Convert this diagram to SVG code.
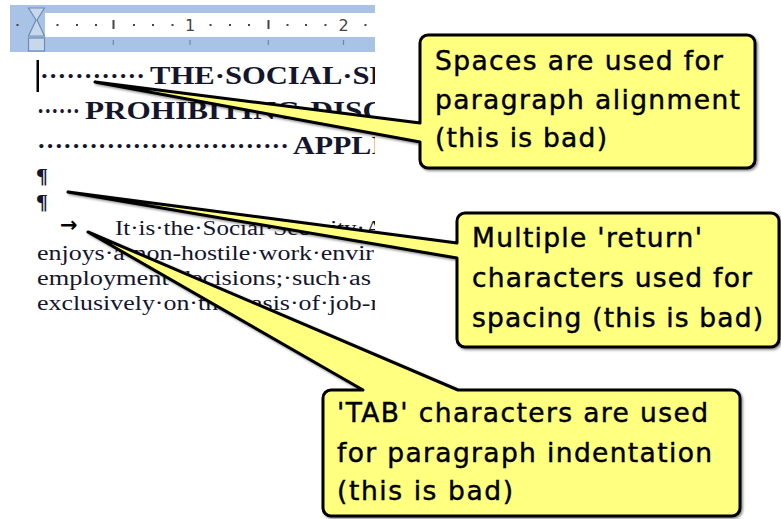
<svg xmlns="http://www.w3.org/2000/svg" width="781" height="519" viewBox="0 0 781 519">
<style>
.band{fill:#a8c3e6}
.dot{fill:#444}
.rnum{font-family:"DejaVu Sans",sans-serif;font-size:16px;fill:#444}
.btick{stroke:#6d86a8;stroke-width:1.2}
.head{font-family:"Liberation Serif",serif;font-weight:bold;font-size:26px;fill:#15152e}
.pil{font-family:"Liberation Serif",serif;font-weight:bold;font-size:22px;fill:#15152e}
.body{font-family:"Liberation Serif",serif;font-size:20px;fill:#15152e}
.call{fill:#ffff80;stroke:#000;stroke-width:3;stroke-linejoin:round}
.ct{font-family:"DejaVu Sans",sans-serif;font-size:26.5px;fill:#000;stroke:#000;stroke-width:0.45}
</style>
<defs>
<clipPath id="doc"><rect x="0" y="0" width="375" height="519"/></clipPath>
<filter id="sh" x="-5%" y="-5%" width="115%" height="115%">
<feDropShadow dx="1.5" dy="1.5" stdDeviation="1" flood-color="#000" flood-opacity="0.45"/>
</filter>
</defs>
<rect width="781" height="519" fill="#fff"/>
<g id="ruler">
<rect x="10" y="5" width="365" height="47" fill="#fff"/>
<rect class="band" x="10" y="5" width="365" height="8"/>
<rect class="band" x="10" y="37" width="365" height="15"/>
<rect class="band" x="10" y="13" width="35" height="24"/>
<g class="dot">
<rect x="16.5" y="24" width="2" height="2"/>
<rect x="56.5" y="24" width="2" height="2"/>
<rect x="76" y="24" width="2" height="2"/>
<rect x="95" y="24" width="2" height="2"/>
<rect x="112.5" y="20" width="2" height="9"/>
<rect x="133" y="24" width="2" height="2"/>
<rect x="152" y="24" width="2" height="2"/>
<rect x="171.5" y="24" width="2" height="2"/>
<rect x="209.5" y="24" width="2" height="2"/>
<rect x="229" y="24" width="2" height="2"/>
<rect x="248" y="24" width="2" height="2"/>
<rect x="267.5" y="20" width="2" height="9"/>
<rect x="286.5" y="24" width="2" height="2"/>
<rect x="305" y="24" width="2" height="2"/>
<rect x="324.5" y="24" width="2" height="2"/>
<rect x="364.5" y="24" width="2" height="2"/>
</g>
<text class="rnum" x="190" y="31" text-anchor="middle">1</text>
<text class="rnum" x="343.5" y="31" text-anchor="middle">2</text>
<line class="btick" x1="113.3" y1="40" x2="113.3" y2="45"/>
<line class="btick" x1="190" y1="40" x2="190" y2="45"/>
<line class="btick" x1="268.3" y1="40" x2="268.3" y2="45"/>
<line class="btick" x1="343.5" y1="40" x2="343.5" y2="45"/>
<path d="M28.5,8 H44.5 L37,20 L44.5,36 H28.5 L36,20 Z" fill="#c8d8ec" stroke="#6f8db3" stroke-width="1.2"/>
<rect x="28.5" y="38" width="16" height="13" fill="#c8d8ec" stroke="#6f8db3" stroke-width="1.2"/>
</g>
<g id="document" clip-path="url(#doc)">
<rect x="36.5" y="60" width="2.5" height="32" fill="#000"/>
<text class="head" x="40" y="84" textLength="105" lengthAdjust="spacingAndGlyphs">············</text>
<text class="head" x="150" y="84" textLength="240" lengthAdjust="spacingAndGlyphs">THE·SOCIAL·SE</text>
<text class="head" x="37" y="119" textLength="43" lengthAdjust="spacingAndGlyphs">······</text>
<text class="head" x="85" y="119" textLength="300" lengthAdjust="spacingAndGlyphs">PROHIBITING·DISC</text>
<text class="head" x="37" y="154" textLength="252" lengthAdjust="spacingAndGlyphs">·····························</text>
<text class="head" x="293" y="154" textLength="90" lengthAdjust="spacingAndGlyphs">APPLI</text>
<text class="pil" x="36" y="183">¶</text>
<text class="pil" x="36" y="209">¶</text>
<text x="60" y="232" font-family="DejaVu Sans" font-weight="bold" font-size="21" fill="#000">→</text>
<text class="body" x="115" y="235" textLength="268" lengthAdjust="spacingAndGlyphs">It·is·the·Social·Security·A</text>
<text class="body" x="37" y="260" textLength="337" lengthAdjust="spacingAndGlyphs">enjoys·a·non-hostile·work·envir</text>
<text class="body" x="37" y="285" textLength="334" lengthAdjust="spacingAndGlyphs">employment·decisions;·such·as</text>
<text class="body" x="37" y="310" textLength="342" lengthAdjust="spacingAndGlyphs">exclusively·on·the·basis·of·job-r</text>
</g>
<g id="connectors"></g>
<g id="callout-spaces">
<path class="call" filter="url(#sh)" d="M428,35 H747 A8,8 0 0 1 755,43 V160 A8,8 0 0 1 747,168 H428 A8,8 0 0 1 420,160 V142 L95,82 L420,123 V43 A8,8 0 0 1 428,35 Z"/>
<text class="ct" x="435" y="70" textLength="288">Spaces are used for</text>
<text class="ct" x="435" y="108.5" textLength="305">paragraph alignment</text>
<text class="ct" x="435" y="147" textLength="172">(this is bad)</text>
</g>
<g id="callout-return">
<path class="call" filter="url(#sh)" d="M465,213 H771 A8,8 0 0 1 779,221 V339 A8,8 0 0 1 771,347 H465 A8,8 0 0 1 457,339 V258 L68,192 L457,243 V221 A8,8 0 0 1 465,213 Z"/>
<text class="ct" x="472" y="247" textLength="230">Multiple 'return'</text>
<text class="ct" x="472" y="287" textLength="280">characters used for</text>
<text class="ct" x="472" y="327" textLength="291">spacing (this is bad)</text>
</g>
<g id="callout-tab">
<path class="call" filter="url(#sh)" d="M331,390 H363 L88,232 L458,390 H732 A8,8 0 0 1 740,398 V508 A8,8 0 0 1 732,516 H331 A8,8 0 0 1 323,508 V398 A8,8 0 0 1 331,390 Z"/>
<text class="ct" x="337" y="422" textLength="371">'TAB' characters are used</text>
<text class="ct" x="337" y="461.5" textLength="375">for paragraph indentation</text>
<text class="ct" x="337" y="500" textLength="176">(this is bad)</text>
</g>
</svg>
